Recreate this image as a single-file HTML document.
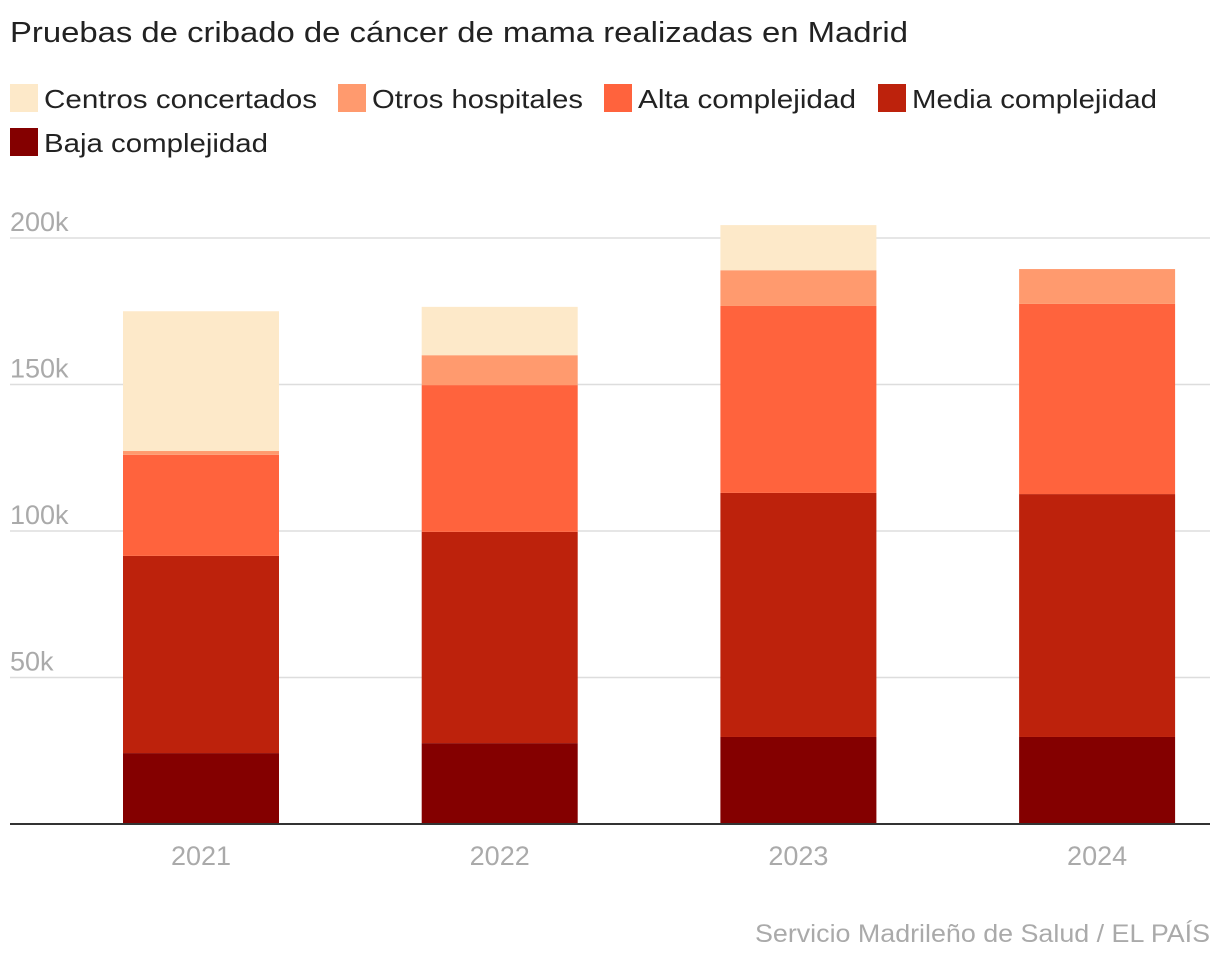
<!DOCTYPE html>
<html><head><meta charset="utf-8">
<style>
body{margin:0;background:#fff;width:1220px;height:962px;overflow:hidden;font-family:"Liberation Sans",sans-serif;}
</style></head>
<body>
<svg id="chart" width="1220" height="962" xmlns="http://www.w3.org/2000/svg">
<text x="10" y="42" font-size="29" fill="#222" textLength="898" lengthAdjust="spacingAndGlyphs">Pruebas de cribado de cáncer de mama realizadas en Madrid</text>
<g id="legend"></g>
<g id="grid"></g>
<g id="bars"></g>
<g id="xaxis"></g>
<text x="1210" y="942" text-anchor="end" font-size="25" fill="#aaa" textLength="455" lengthAdjust="spacingAndGlyphs">Servicio Madrileño de Salud / EL PAÍS</text>
</svg>
<script>
const categories = ["2021","2022","2023","2024"];
const seriesNames = ["Baja complejidad","Media complejidad","Alta complejidad","Otros hospitales","Centros concertados"];
const baja = [24.2, 27.6, 29.7, 29.7];
const media = [67.3, 72.1, 83.3, 82.9];
const alta = [34.5, 50.1, 63.8, 64.9];
const otros = [1.3, 10.2, 12.2, 11.9];
const centros = [47.7, 16.5, 15.4, 0];
const yTicks = [50, 100, 150, 200];
const yTickLabels = ["50k","100k","150k","200k"];

const series = [baja, media, alta, otros, centros];
const colors = ["#840000","#bd220c","#ff633d","#ff9a6e","#fde9c9"];
const NS = "http://www.w3.org/2000/svg";
const y0 = 824, pxPerK = 2.93;
const y = v => y0 - v * pxPerK;
const x = i => 201 + i * 298.7;
const bw = 156;
function mk(tag, attrs, parent){const e=document.createElementNS(NS,tag);for(const k in attrs)e.setAttribute(k,attrs[k]);parent.appendChild(e);return e;}

const grid = document.getElementById("grid");
yTicks.forEach((t,i)=>{
  const l = mk("line",{x1:10,x2:1210,y1:y(t),y2:y(t),stroke:"#ddd","stroke-width":1.5},grid);
  
  
  const tx = mk("text",{x:10,y:y(t)-7,"font-size":27,fill:"#aaa"},grid);
  
  
  tx.textContent = yTickLabels[i];
});

const bars = document.getElementById("bars");
categories.forEach((c,i)=>{
  let acc = 0;
  series.forEach((s,j)=>{
    const v = s[i];
    if (v <= 0) return;
    const r = mk("rect",{x:x(i)-bw/2,y:y(acc+v),width:bw,height:v*pxPerK,fill:colors[j]},bars);
    
    
    acc += v;
  });
});

const xa = document.getElementById("xaxis");
const base = mk("line",{x1:10,x2:1210,y1:y0,y2:y0,stroke:"#333","stroke-width":2},xa);


categories.forEach((c,i)=>{
  const t = mk("text",{x:x(i),y:865,"text-anchor":"middle","font-size":27,fill:"#aaa"},xa);
  
  
  t.textContent = c;
});

const lg = document.getElementById("legend");
const legendOrder = [4,3,2,1,0];
const pos = [[10,84],[338,84],[604,84],[878,84],[10,128]];
const widths = [273,211,218,245,224];
legendOrder.forEach((j,k)=>{
  const [lx,ly] = pos[k];
  const g = mk("g",{},lg);
  
  
  mk("rect",{x:lx,y:ly,width:28,height:28,fill:colors[j]},g);
  const t = mk("text",{x:lx+34,y:ly+24,"font-size":26,fill:"#222",textLength:widths[k],lengthAdjust:"spacingAndGlyphs"},g);
  t.textContent = seriesNames[j];
});
</script>
</body></html>
